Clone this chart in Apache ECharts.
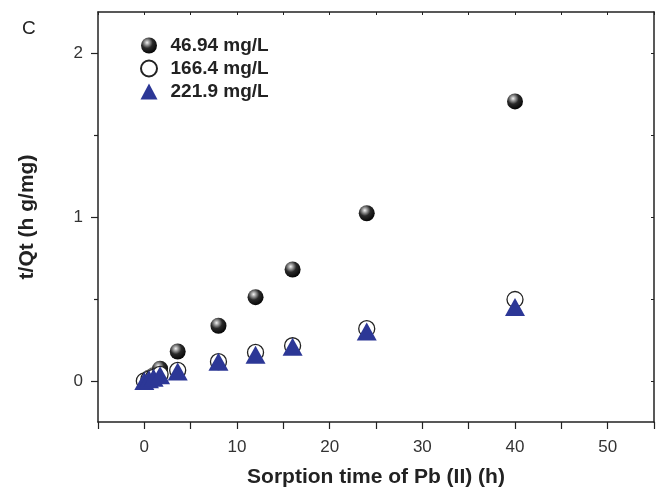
<!DOCTYPE html>
<html>
<head>
    <meta charset="utf-8">
    <title>Pb sorption kinetics</title>
    <script src="https://cdn.jsdelivr.net/npm/echarts@6/dist/echarts.min.js"></script>
</head>
<body style="margin:0">
<div id="main" style="width: 656px;height:488px;"></div>
<script type="text/javascript">
    // sorption time (h)
    var times = [0, 0.5, 1, 1.7, 3.6, 8, 12, 16, 24, 40];
    // t/Qt for each initial concentration
    var c4694 = [0, 0.02, 0.035, 0.075, 0.18, 0.337, 0.511, 0.68, 1.023, 1.705];
    var c1664 = [0, 0.012, 0.022, 0.04, 0.065, 0.118, 0.174, 0.215, 0.319, 0.497];
    var c2219 = [0, 0.01, 0.02, 0.035, 0.058, 0.118, 0.16, 0.209, 0.302, 0.451];
    var seriesNames = ['46.94 mg/L', '166.4 mg/L', '221.9 mg/L'];
    var xLabels = [0, 10, 20, 30, 40, 50];
    var yLabels = [0, 1, 2];

    function pairs(ys) {
        return times.map(function (t, i) { return [t, ys[i]]; });
    }

    var font = 'Liberation Sans, Arial, sans-serif';
    var axisColor = '#222';
    var sphere = {
        type: 'radial', x: 0.38, y: 0.32, r: 0.7,
        colorStops: [
            {offset: 0, color: '#f4f4f4'},
            {offset: 0.2, color: '#a0a0a0'},
            {offset: 0.5, color: '#2a2a2a'},
            {offset: 1, color: '#050505'}
        ]
    };

    var myChart = echarts.init(document.getElementById('main'));
    var option = {
        animation: false,
        backgroundColor: '#fff',
        textStyle: {fontFamily: font},
        grid: {left: 98, right: 2, top: 12, bottom: 66, outerBoundsMode: 'none'},
        graphic: [{
            type: 'text', left: 22, top: 19,
            style: {text: 'C', font: '19px ' + font, fill: '#222'}
        }],
        legend: {
            orient: 'vertical',
            left: 135, top: 31,
            itemWidth: 17, itemHeight: 16, itemGap: 4,
            textStyle: {fontSize: 19, fontWeight: 'bold', color: '#222', fontFamily: font, padding: [0, 0, 0, 8]},
            data: seriesNames
        },
        xAxis: [{
            type: 'value', min: -5, max: 55, interval: 5,
            name: 'Sorption time of Pb (II) (h)',
            nameLocation: 'middle', nameGap: 45,
            nameTextStyle: {fontSize: 21, fontWeight: 'bold', color: '#222', fontFamily: font},
            axisLine: {onZero: false, lineStyle: {color: axisColor, width: 1.5}},
            axisTick: {length: 7, lineStyle: {color: axisColor, width: 1.2}},
            axisLabel: {
                fontSize: 17, color: '#333', margin: 17,
                customValues: xLabels
            },
            splitLine: {show: false}
        }, {
            type: 'value', position: 'top', min: -5, max: 55, interval: 5,
            axisLine: {show: true, onZero: false, lineStyle: {color: axisColor, width: 1.5}},
            axisTick: {inside: true, length: 3, lineStyle: {color: axisColor}},
            axisLabel: {show: false},
            splitLine: {show: false}
        }],
        yAxis: [{
            type: 'value', min: -0.25, max: 2.25,
            name: 't/Qt (h g/mg)',
            nameLocation: 'middle', nameGap: 60,
            nameTextStyle: {fontSize: 21, fontWeight: 'bold', color: '#222', fontFamily: font},
            axisLine: {show: true, onZero: false, lineStyle: {color: axisColor, width: 1.5}},
            axisTick: {show: true, length: 7, customValues: yLabels, lineStyle: {color: axisColor, width: 1.2}},
            axisLabel: {fontSize: 17, color: '#333', margin: 15, customValues: yLabels},
            splitLine: {show: false}
        }, {
            type: 'value', position: 'left', min: -0.25, max: 2.25,
            axisLine: {show: false, onZero: false},
            axisTick: {show: true, length: 4, customValues: [0.5, 1.5], lineStyle: {color: axisColor, width: 1.2}},
            axisLabel: {show: false},
            splitLine: {show: false}
        }, {
            type: 'value', position: 'right', min: -0.25, max: 2.25,
            axisLine: {show: true, onZero: false, lineStyle: {color: axisColor, width: 1.5}},
            axisTick: {show: true, inside: true, length: 3, customValues: [0, 0.5, 1, 1.5, 2], lineStyle: {color: axisColor}},
            axisLabel: {show: false},
            splitLine: {show: false}
        }],
        series: [{
            name: seriesNames[0], type: 'scatter',
            symbol: 'circle', symbolSize: 16,
            itemStyle: {color: sphere, opacity: 1},
            data: pairs(c4694), z: 2
        }, {
            name: seriesNames[1], type: 'scatter',
            symbol: 'circle', symbolSize: 16,
            itemStyle: {color: '#fff', borderColor: '#222', borderWidth: 1.3, opacity: 1},
            data: pairs(c1664), z: 3
        }, {
            name: seriesNames[2], type: 'scatter',
            symbol: 'triangle', symbolSize: [20, 18],
            itemStyle: {color: '#2c3796', opacity: 1},
            data: pairs(c2219), z: 4
        }]
    };
    myChart.setOption(option);
</script>
</body>
</html>
